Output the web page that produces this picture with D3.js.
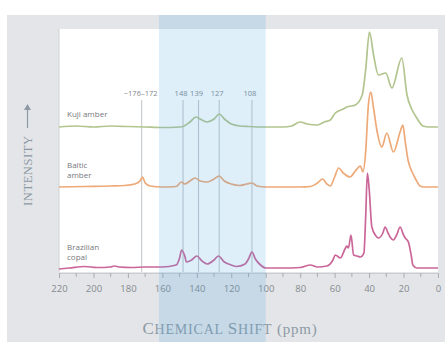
<!DOCTYPE html>
<html>
<head>
<meta charset="utf-8">
<script src="https://cdn.jsdelivr.net/npm/d3@7"></script>
<style>
  body { margin: 0; background: #fff; }
  svg { display: block; }
</style>
</head>
<body>
<div id="chart"></div>
<script>
// x axis (ppm), reversed as in NMR plots
var ppmTicks = [220, 200, 180, 160, 140, 120, 100, 80, 60, 40, 20, 0];
var minorTicks = [210, 190, 170, 150, 130, 110, 90, 70, 50, 30, 10];
var bandRange = [162, 100];
var refShifts = [172, 148, 139, 127, 108];
var refLabels = ["~176\u2013172", "148", "139", "127", "108"];

var sampleNames = [["Kuji amber"], ["Baltic", "amber"], ["Brazilian", "copal"]];
var sampleOffsets = [145, 85, 4];   // stacking offset of each trace (intensity units)

// [ppm, intensity above baseline]
var kuji = [[220,0],[210,1],[200,0],[190,1],[180,0.5],[170,0],[160,-0.5],[150,0],[148,0.5],[144,5],[140.5,10],[137,7],[134,5],[130,8],[127,13],[124,8],[120,3],[115,1],[110,0.5],[100,0],[90,0],[85,1],[80,5],[76,3],[70,2],[66,5],[62.5,7],[59.6,14],[55,18],[53,20],[48,22],[44,32],[42,57],[39.8,95],[37.4,72],[34.6,52],[30.3,54],[26.8,39],[21,69],[18,32],[15,17],[12.3,9],[8.7,1],[5,0],[0,0]];

var baltic = [[220,0],[205,0.5],[190,1],[182,1.5],[176,3],[173,6],[171.5,10],[170,4],[167,1],[160,0],[152,0.5],[149,5],[147,3],[144,6],[141,9],[138,6],[134,5],[130,8],[127,11],[124,6],[120,3],[115,1.5],[111,3],[108,4],[105,1],[100,0],[80,0],[74,0.5],[70,4],[67,8],[64.5,3],[62.5,1],[60,10],[57.7,19],[55,14],[51,10],[48,16],[45,21],[43.6,15],[42,35],[40.5,80],[39,95],[37.5,80],[35.5,57],[32.6,40],[29.7,54],[25.9,35],[22,55],[20.4,62],[19,45],[17.4,27],[15,15],[13.3,9],[10.4,1],[8,0],[0,0]];

var brazil = [[220,-1],[214,0],[205,1.5],[198,0.5],[190,1],[188,2],[185,1],[178,0.5],[170,1],[160,1],[152,3],[150,10],[148.8,18],[147,12],[146,6],[143,8],[140,12],[137,7],[134,4],[130,8],[127.5,12],[124,6],[120,3],[117,1.5],[112,4],[110,9],[108,16],[106,9],[103,3],[100,0],[90,0],[80,0.5],[74,3],[70,1],[64.5,2],[61,8],[59.6,13],[56.7,10],[54,19],[53,22],[52,20],[50.5,33],[49,13],[47,12],[45,11],[43,15],[42,50],[41,95],[40,80],[38.4,41],[36,32],[34.6,30],[32,35],[30.7,41],[29,35],[27.8,31],[25.9,28],[24,33],[22,41],[20,33],[19,30],[17.2,26],[15.5,12],[14.6,3],[12.3,0],[8,0],[0,0]];

var spectra = [kuji, baltic, brazil];
var colors = ["#b2c58f", "#eea978", "#cb6699"];

var width = 445, height = 342;
var plot = { left: 59, right: 438, top: 29, bottom: 272 };

var svg = d3.select("#chart").append("svg")
  .attr("width", width)
  .attr("height", height);

var x = d3.scaleLinear().domain([220, 0]).range([plot.left, plot.right]);
var y = d3.scaleLinear().domain([0, 243]).range([plot.bottom, plot.top]);

// background panel + white plotting area
svg.append("rect")
  .attr("x", 7).attr("y", 15)
  .attr("width", width - 7).attr("height", height - 15)
  .attr("fill", "#e3e5e8");

svg.append("rect")
  .attr("x", plot.left).attr("y", plot.top)
  .attr("width", plot.right - plot.left).attr("height", plot.bottom - plot.top)
  .attr("fill", "#fff");

svg.append("line")
  .attr("x1", plot.left).attr("x2", plot.left)
  .attr("y1", plot.top).attr("y2", plot.bottom)
  .attr("stroke", "#cfd2d6").attr("stroke-width", 1);

// reference lines + labels
svg.selectAll(".ref")
  .data(refShifts)
  .enter().append("line")
  .attr("class", "ref")
  .attr("x1", function(d) { return x(d); })
  .attr("x2", function(d) { return x(d); })
  .attr("y1", 100)
  .attr("y2", plot.bottom)
  .attr("stroke", "#b9bdc2")
  .attr("stroke-width", 0.9);

svg.selectAll(".refLabel")
  .data(refShifts)
  .enter().append("text")
  .attr("class", "refLabel")
  .attr("x", function(d, i) { return i == 0 ? x(d) - 1 : x(d) - 2; })
  .attr("y", 96)
  .attr("text-anchor", "middle")
  .attr("font-family", "Open Sans, sans-serif")
  .attr("font-size", 7.5)
  .attr("fill", "#85888c")
  .text(function(d, i) { return refLabels[i]; });

// spectra
var line = d3.line()
  .x(function(d) { return x(d[0]); })
  .curve(d3.curveMonotoneX);

spectra.forEach(function(s, i) {
  line.y(function(d) { return y(d[1] + sampleOffsets[i]); });
  svg.append("path")
    .datum(s)
    .attr("d", line)
    .attr("fill", "none")
    .attr("stroke", colors[i])
    .attr("stroke-width", 1.7)
    .attr("stroke-linejoin", "round");
});

// trace names
var nameY = [[117], [168, 178], [250, 260]];
sampleNames.forEach(function(lines, i) {
  svg.append("g").selectAll("text")
    .data(lines)
    .enter().append("text")
    .attr("x", 67)
    .attr("y", function(d, j) { return nameY[i][j]; })
    .attr("font-family", "Open Sans, sans-serif")
    .attr("font-size", 8)
    .attr("fill", "#76797d")
    .text(function(d) { return d; });
});

// x axis
var axis = svg.append("g")
  .attr("transform", "translate(0," + (plot.bottom + 1) + ")")
  .call(d3.axisBottom(x).tickValues(ppmTicks).tickSize(5).tickPadding(7));
axis.select(".domain").attr("stroke", "#c9ccd0");
axis.selectAll(".tick line").attr("stroke", "#a9adb2");
axis.selectAll(".tick text")
  .attr("font-family", "Open Sans, sans-serif")
  .attr("font-size", 9.5)
  .attr("fill", "#868a8f");

svg.append("g").selectAll("line")
  .data(minorTicks)
  .enter().append("line")
  .attr("x1", function(d) { return x(d); })
  .attr("x2", function(d) { return x(d); })
  .attr("y1", plot.bottom + 1)
  .attr("y2", plot.bottom + 5)
  .attr("stroke", "#a9adb2");

// axis titles
var xt = svg.append("text")
  .attr("x", 230)
  .attr("y", 334)
  .attr("text-anchor", "middle")
  .attr("font-family", "Liberation Serif, serif")
  .attr("letter-spacing", 0.8)
  .attr("fill", "#8d9aa5");
xt.append("tspan").attr("font-size", 17).text("C");
xt.append("tspan").attr("font-size", 14).text("HEMICAL ");
xt.append("tspan").attr("font-size", 17).text("S");
xt.append("tspan").attr("font-size", 14).text("HIFT");
xt.append("tspan").attr("font-size", 15).text(" (ppm)");

var yt = svg.append("g").attr("transform", "translate(32,206) rotate(-90)");
yt.append("text")
  .attr("x", 0).attr("y", 0)
  .attr("font-family", "Liberation Serif, serif")
  .attr("font-size", 12.5)
  .attr("letter-spacing", 0.6)
  .attr("fill", "#8d9aa5")
  .text("INTENSITY");
yt.append("line")
  .attr("x1", 78).attr("x2", 101)
  .attr("y1", -4.5).attr("y2", -4.5)
  .attr("stroke", "#8d9aa5").attr("stroke-width", 1.2);
yt.append("path")
  .attr("d", "M96,-8 L102,-4.5 L96,-1 Z")
  .attr("fill", "#8d9aa5");

// highlighted chemical shift band (drawn over everything)
svg.append("rect")
  .attr("x", x(bandRange[0]))
  .attr("y", 15)
  .attr("width", x(bandRange[1]) - x(bandRange[0]))
  .attr("height", height - 15)
  .attr("fill", "#4aa6e4")
  .attr("fill-opacity", 0.18);
</script>
</body>
</html>
